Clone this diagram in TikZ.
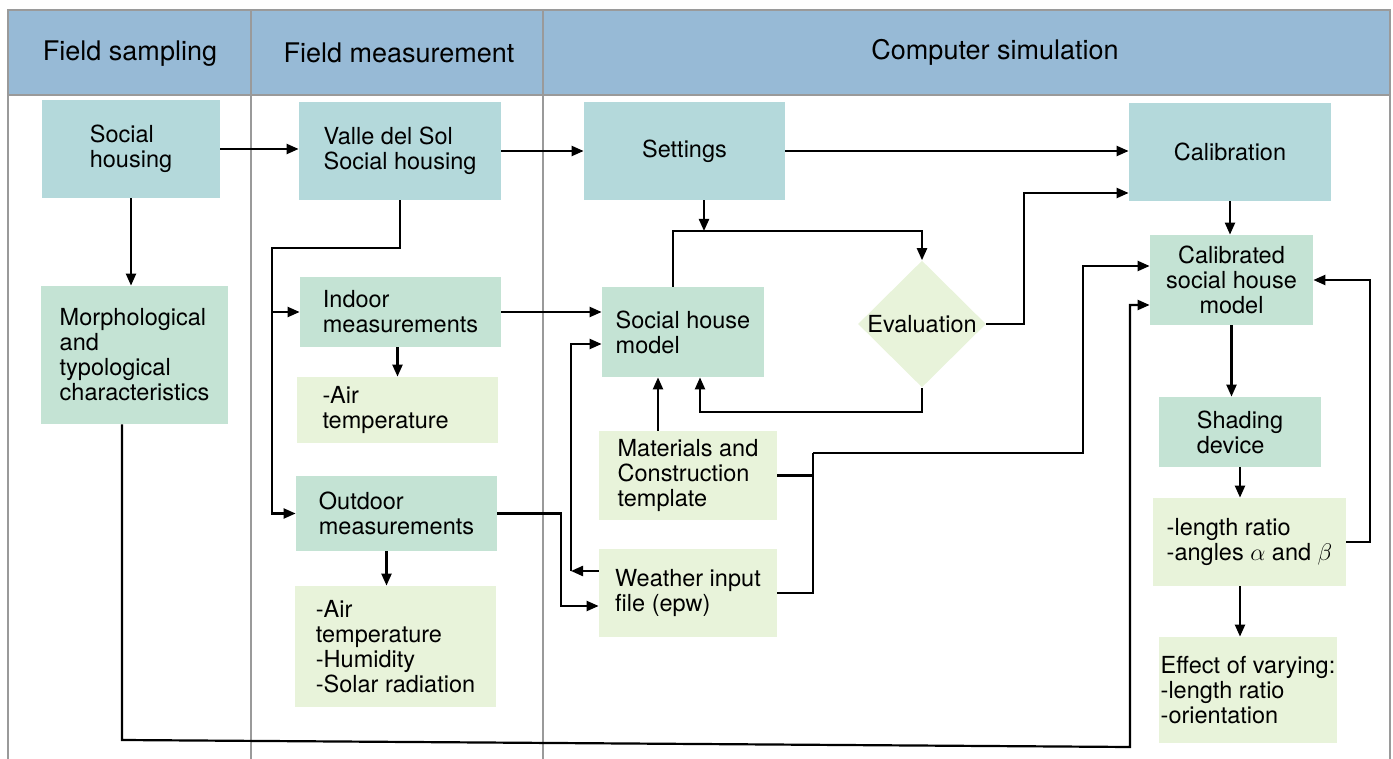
\documentclass[tikz,border=0pt]{standalone}
\usepackage{fontspec}
\setmainfont{TeX Gyre Heros}
\usetikzlibrary{arrows.meta,shapes.geometric}
\definecolor{headblue}{HTML}{97BAD6}
\definecolor{boxteal}{HTML}{B4D9DB}
\definecolor{boxmint}{HTML}{C4E3D4}
\definecolor{boxpale}{HTML}{E8F3DA}
\definecolor{rulegray}{HTML}{9A9A9A}
\begin{document}
\begin{tikzpicture}[x=0.5pt,y=-0.5pt]
			\tikzstyle{BX}=[inner sep=0pt,align=left,font=\fontsize{11.75}{12.5}\selectfont]
			\tikzstyle{TL}=[BX,fill=boxteal]
			\tikzstyle{MT}=[BX,fill=boxmint]
			\tikzstyle{PL}=[BX,fill=boxpale]
			\tikzstyle{HD}=[font=\fontsize{13.5}{16}\selectfont]
			\tikzstyle{arr}=[-{Triangle[length=6pt,width=5pt]},line width=1.1pt]
			\tikzstyle{rule}=[draw=rulegray,line width=1pt]
			
			\useasboundingbox (0,0) rectangle (1393,759);
			\fill[headblue] (8,10) rectangle (1390,95);
			\draw[rule] (8,759) -- (8,10) -- (1390,10) -- (1390,759);
			\draw[rule] (8,95) -- (1390,95);
			\draw[rule] (251,10) -- (251,759);
			\draw[rule] (543,10) -- (543,759);
			
			\begin{scope}
			\node[HD] (hsamp) at (130,54) {Field sampling};
			\node[HD] (hmeas) at (399,53) {Field measurement};
			\node[HD] (hsim)  at (995,52) {Computer simulation};
			
			\node[TL,minimum width=89pt,minimum height=49pt]    (sh)    at (131,149)    {Social\\housing};
			\node[MT,minimum width=93.5pt,minimum height=69pt]  (morph) at (134.5,355)  {Morphological\\and\\typological\\characteristics};
			
			\node[TL,minimum width=101pt,minimum height=49pt]   (vds)   at (400,151)    {Valle del Sol\\Social housing};
			\node[MT,minimum width=100.5pt,minimum height=35pt] (ind)   at (400.5,312)  {Indoor\\measurements};
			\node[PL,minimum width=100.5pt,minimum height=33pt,text width=75pt] (iair) at (397.5,410) {-Air\\temperature};
			\node[MT,minimum width=100.5pt,minimum height=37.5pt] (outd) at (396.5,513.5) {Outdoor\\measurements};
			\node[PL,minimum width=100.5pt,minimum height=60.5pt] (oair) at (395.5,646.5) {-Air\\temperature\\-Humidity\\-Solar radiation};
			
			\node[TL,minimum width=100.5pt,minimum height=49pt] (set)   at (684.5,151)  {Settings};
			\node[MT,minimum width=81pt,minimum height=45pt]    (model) at (683,332)    {Social house\\model};
			\node[PL,diamond,minimum width=64pt,minimum height=63pt,align=center] (eval) at (922,324) {Evaluation};
			\node[PL,minimum width=89pt,minimum height=44.5pt]  (mat)   at (688,475.5)  {Materials and\\Construction\\template};
			\node[PL,minimum width=89pt,minimum height=44pt]    (weat)  at (688,593)    {Weather input\\file (epw)};
			
			\node[TL,minimum width=101pt,minimum height=49pt,align=center]  (cal)  at (1230,152)   {Calibration};
			\node[MT,minimum width=81.5pt,minimum height=45pt,align=center] (cmod) at (1231.5,280) {Calibrated\\social house\\model};
			\node[MT,minimum width=81pt,minimum height=35pt]    (shad)  at (1240,432)   {Shading\\device};
			\node[PL,minimum width=96.5pt,minimum height=44pt]  (len)   at (1249.5,542) {-length ratio\\-angles $\alpha$ and $\beta$};
			\node[PL,minimum width=89pt,minimum height=53pt]    (eff)   at (1248,690)   {Effect of varying:\\-length ratio\\-orientation};
			\end{scope}
			
			\coordinate (vsplit) at (272,248);
			\coordinate (oturn)  at (561,606);
			\coordinate (wturn)  at (571,571);
			\coordinate (sjoin)  at (704,231);
			\coordinate (mtop)   at (673,231);
			\coordinate (ebot)   at (700,412);
			\coordinate (eturn)  at (1024,193);
			\coordinate (mwjoin) at (813,453);
			\coordinate (cturn)  at (1083,266);
			\coordinate (mbot)   at (122,740);
			\coordinate (bturn)  at (1130,747);
			\coordinate (rturn)  at (1370,542);
			
			\path[arr]
			(sh.east) edge (sh.east -| vds.west)
			(vds.east) edge (vds.east -| set.west)
			(set.east) edge (set.east -| cal.west)
			(sh.south) edge (sh.south |- morph.north)
			(vsplit |- ind.west) edge (ind.west)
			(iair.north |- ind.south) edge (iair.north)
			([xshift=-5pt]outd.south) edge ([xshift=-5pt]outd.south |- oair.north)
			(ind.east) edge (ind.east -| model.west)
			(wturn -| weat.west) edge (wturn)
			(sjoin |- set.south) edge (sjoin)
			([xshift=-15pt]mat.north) edge ([xshift=-15pt]mat.north |- model.south)
			(cal.south) edge (cal.south |- cmod.north)
			(cmod.south) edge (cmod.south |- shad.north)
			(shad.south) edge (shad.south |- len.north)
			(len.south -| shad.south) edge (shad.south |- eff.north)
			;
			
			\draw[arr] (vds.south) |- (vsplit) |- (outd.west);
			\draw[arr] (outd.east) -| (oturn) -- (oturn -| weat.west);
			\draw[arr] (wturn) |- ([yshift=-6pt]model.west);
			\draw[arr] (mtop |- model.north) -- (mtop) -| (eval.north);
			\draw[arr] (eval.south) |- (ebot) -- (ebot |- model.south);
			\draw[arr] (eval.east) -| (eturn) -- (eturn -| cal.west);
			\draw[line width=1.1pt] (mat.east) -| (mwjoin);
			\draw[line width=1.1pt] (weat.east) -| (mwjoin);
			\draw[arr] (mwjoin) -| (cturn) -- (cturn -| cmod.west);
			\draw[arr] (mbot |- morph.south) -- (mbot) -- (bturn) |- ([yshift=-12.5pt]cmod.west);
			\draw[arr] (len.east) -- (len.east -| rturn) |- (cmod.east);
		\end{tikzpicture}
\end{document}
